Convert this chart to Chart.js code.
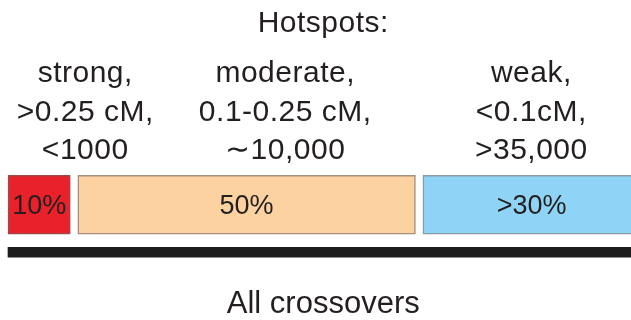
<!DOCTYPE html>
<html>
<head>
<meta charset="utf-8">
<script src="https://cdn.jsdelivr.net/npm/chart.js@4/dist/chart.umd.min.js"></script>
<style>
  html, body { margin: 0; padding: 0; background: #fff; }
  #wrap { width: 631px; height: 320px; }
</style>
</head>
<body>
<div id="wrap"><canvas id="hotspotChart" width="631" height="320"></canvas></div>
<script>
// Data
var rows = ['Hotspots', 'All crossovers'];
var classes = ['strong', 'moderate', 'weak'];
var shares = ['10%', '50%', '>30%'];
var classLabels = [
  ['strong,', '>0.25 cM,', '<1000'],
  ['moderate,', '0.1-0.25 cM,', '\u223C10,000'],
  ['weak,', '<0.1cM,', '>35,000']
];
// extent of each class along the crossover axis (0-100)
var spans = [[0, 10], [11.2, 65.4], [66.6, 101.5]];
var allSpan = [0, 101.5];

var fills = ['#e8212b', '#fdd2a1', '#8fd4f6'];
var borders = ['#9a4a4a', '#a58f7c', '#8a9aa6'];

var FONT = '"Liberation Sans", Arial, Helvetica, sans-serif';
var INK = '#231f20';

// where the text blocks sit, in x-axis units
var classLabelAt = [12.4, 44.5, 84.0];
var centreAt = 50.6;

var datasets = classes.map(function (c, i) {
  return {
    label: c,
    data: [spans[i], null],
    backgroundColor: fills[i],
    borderColor: borders[i],
    borderWidth: 1.5,
    borderSkipped: false,
    barThickness: 59,
    grouped: false,
    clip: false
  };
});
datasets.push({
  label: 'all',
  data: [null, allSpan],
  backgroundColor: '#1d1d1d',
  borderWidth: 0,
  barThickness: 10,
  grouped: false,
  clip: false
});

// draws the titles, class labels and percentages
var textPlugin = {
  id: 'texts',
  afterDatasetsDraw: function (chart) {
    var ctx = chart.ctx;
    var x = chart.scales.x;
    ctx.save();
    ctx.fillStyle = INK;
    ctx.textAlign = 'center';
    ctx.textBaseline = 'alphabetic';
    ctx.letterSpacing = '0.5px';

    ctx.font = '30px ' + FONT;
    ctx.fillText('Hotspots:', x.getPixelForValue(centreAt), 32);

    for (var i = 0; i < classLabels.length; i++) {
      var cx = x.getPixelForValue(classLabelAt[i]);
      for (var j = 0; j < classLabels[i].length; j++) {
        ctx.fillText(classLabels[i][j], cx, 82 + j * 38.5);
      }
    }

    ctx.letterSpacing = '0px';
    ctx.font = '27px ' + FONT;
    for (var k = 0; k < classes.length; k++) {
      var bar = chart.getDatasetMeta(k).data[0];
      var mid = (x.getPixelForValue(spans[k][0]) + x.getPixelForValue(spans[k][1])) / 2;
      ctx.fillText(shares[k], mid, bar.y + 9.5);
    }

    ctx.font = '31px ' + FONT;
    ctx.fillText('All crossovers', x.getPixelForValue(centreAt), 313);
    ctx.restore();
  }
};

var chart = new Chart(document.getElementById('hotspotChart'), {
  type: 'bar',
  data: { labels: rows, datasets: datasets },
  options: {
    indexAxis: 'y',
    responsive: false,
    devicePixelRatio: 1,
    animation: false,
    layout: { padding: { top: 181, bottom: 44, left: 8, right: 0 } },
    scales: {
      x: { display: false, min: 0, max: 100 },
      y: { display: false }
    },
    plugins: {
      legend: { display: false },
      tooltip: { enabled: false }
    }
  },
  plugins: [textPlugin]
});
</script>
</body>
</html>
